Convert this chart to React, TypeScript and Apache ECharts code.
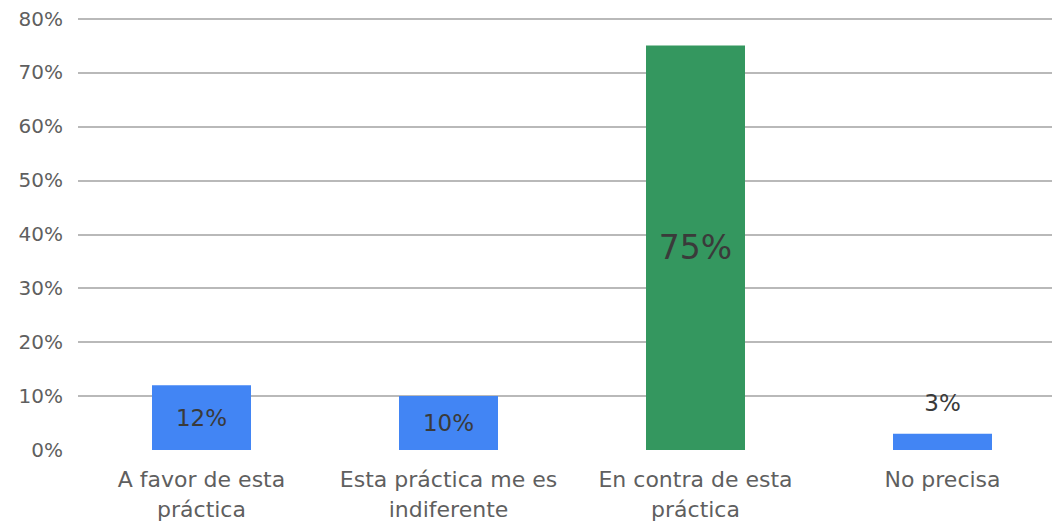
import React, { useEffect, useRef } from "react";
import * as echarts from "echarts";

const categories = [
  "A favor de esta\npráctica",
  "Esta práctica me es\nindiferente",
  "En contra de esta\npráctica",
  "No precisa",
];
const values = [12, 10, 75, 3];
const barColors = ["#4285f4", "#4285f4", "#34975f", "#4285f4"];
const labelPositions = ["inside", "inside", "inside", "top"];
const labelSizes = [23, 23, 33, 23];
const yTicks = { min: 0, max: 80, interval: 10 };

export default function App() {
  const ref = useRef<HTMLDivElement>(null);
  useEffect(() => {
    if (!ref.current) return;
    const chart = echarts.init(ref.current, undefined, { renderer: "svg" });
    const font = "'DejaVu Sans', sans-serif";
    chart.setOption({
      animation: false,
      backgroundColor: "#ffffff",
      grid: { left: 78, top: 18.5, right: 0, bottom: 73.5, containLabel: false },
      xAxis: {
        type: "category",
        data: categories,
        axisLine: { show: false },
        axisTick: { show: false },
        axisLabel: {
          color: "#5f5f5f",
          fontSize: 22,
          fontFamily: font,
          lineHeight: 30,
          margin: 14,
          interval: 0,
        },
      },
      yAxis: {
        type: "value",
        min: yTicks.min,
        max: yTicks.max,
        interval: yTicks.interval,
        axisLine: { show: false },
        axisTick: { show: false },
        axisLabel: {
          formatter: "{value}%",
          color: "#5f5f5f",
          fontSize: 20,
          fontFamily: font,
          margin: 15,
        },
        splitLine: {
          showMinLine: false,
          lineStyle: { color: "#b9b9b9", width: 2 },
        },
      },
      series: [
        {
          type: "bar",
          barWidth: 99,
          data: values.map((v, i) => ({
            value: v,
            itemStyle: { color: barColors[i] },
            label: {
              show: true,
              position: labelPositions[i],
              distance: 19,
              formatter: "{c}%",
              color: "#3a3a3a",
              fontSize: labelSizes[i],
              fontFamily: font,
            },
          })),
        },
      ],
    });
    return () => chart.dispose();
  }, []);
  return (
    <div
      style={{
        position: "fixed",
        left: 0,
        top: 0,
        width: 1052,
        height: 524,
        overflow: "hidden",
      }}
    >
      <div ref={ref} style={{ width: 1066, height: 524 }} />
    </div>
  );
}
